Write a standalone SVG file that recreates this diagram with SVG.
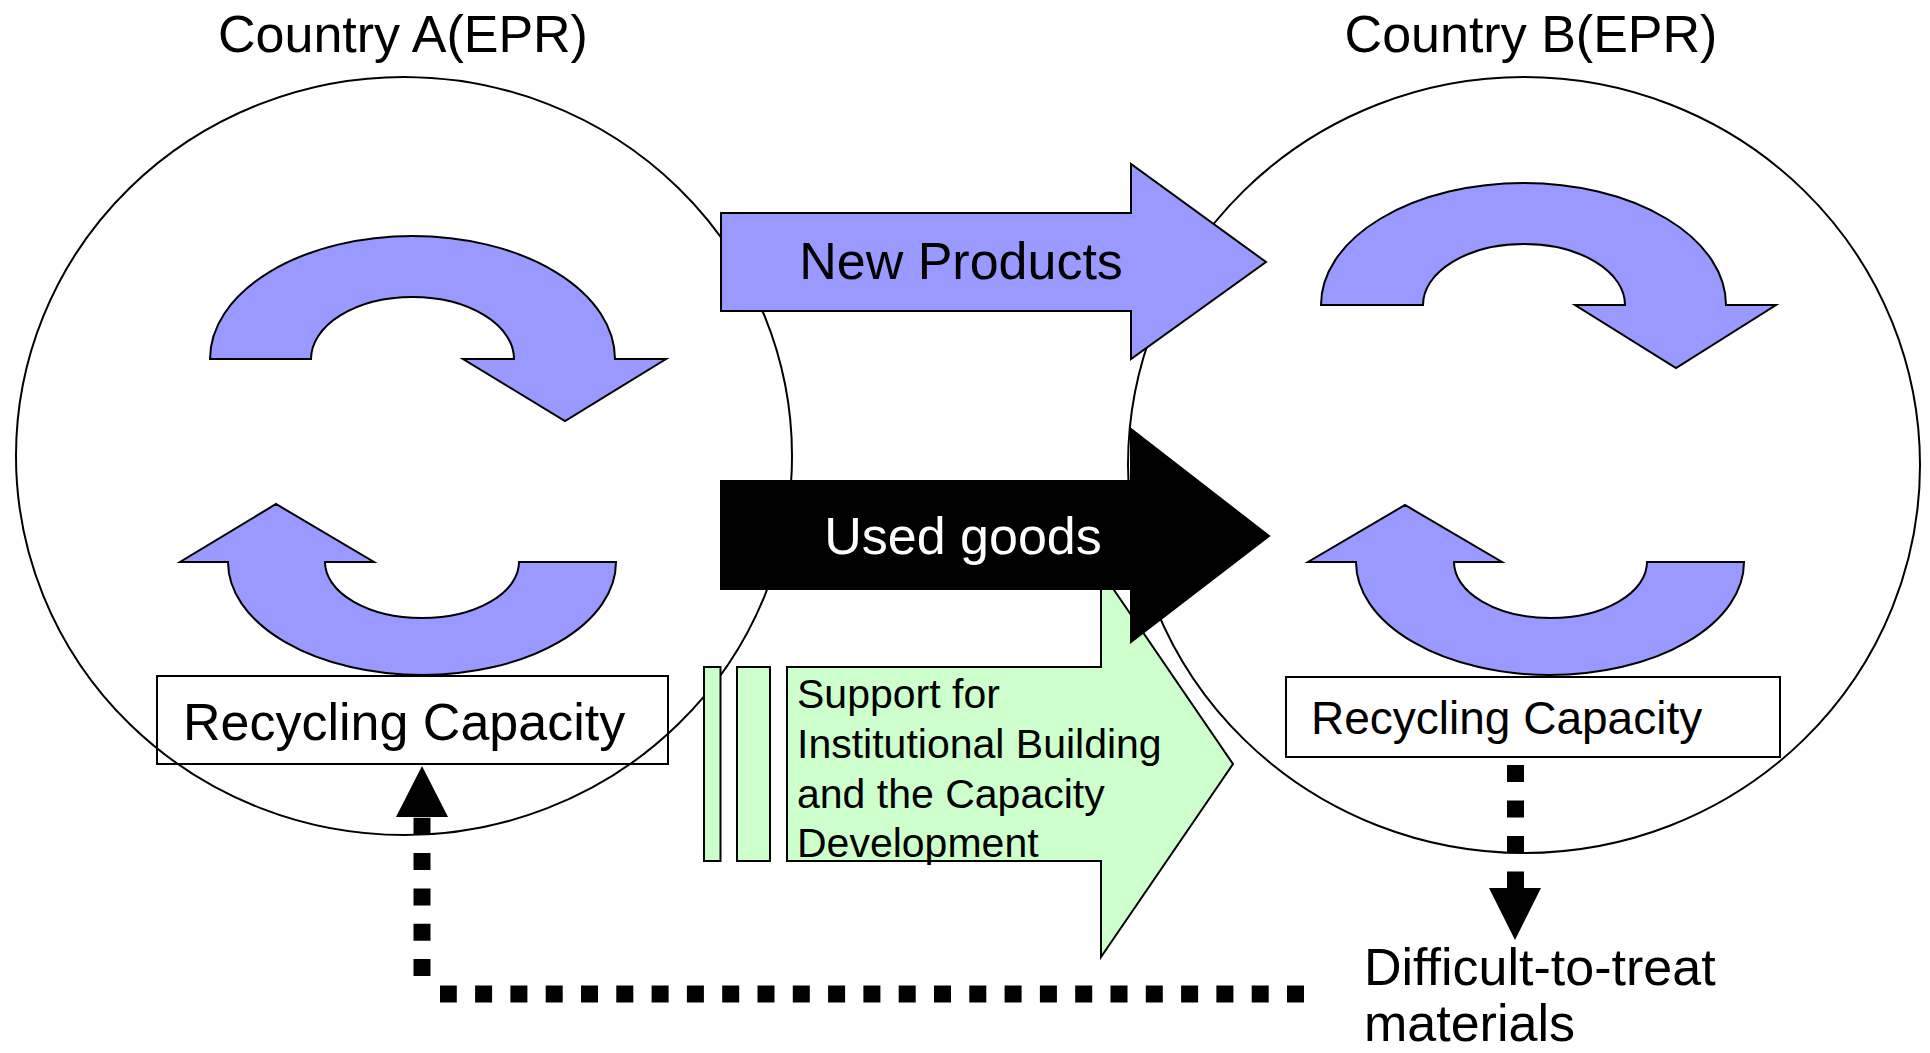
<svg xmlns="http://www.w3.org/2000/svg" width="1930" height="1053" viewBox="0 0 1930 1053">
<style>
  text { font-family: "Liberation Sans", Arial, sans-serif; fill: #000; }
  .ell { fill: none; stroke: #000; stroke-width: 2; }
  .blue { fill: #9999FF; stroke: #000; stroke-width: 2; stroke-linejoin: miter; }
  .green { fill: #CCFFCC; stroke: #000; stroke-width: 2; }
  .box { fill: none; stroke: #000; stroke-width: 2; }
  .dash { fill: none; stroke: #000; stroke-width: 17; stroke-dasharray: 17 18.3; }
  .big { font-size: 52px; }
  .sup { font-size: 41px; }
</style>
<rect width="1930" height="1053" fill="#fff"/>

<g id="countryA">
  <ellipse class="ell" cx="404" cy="456" rx="388" ry="379"/>
  <text class="big" x="403" y="52" text-anchor="middle">Country A(EPR)</text>
</g>
<g id="countryB">
  <ellipse class="ell" cx="1524" cy="465" rx="396" ry="388"/>
  <text class="big" x="1531" y="52" text-anchor="middle">Country B(EPR)</text>
</g>

<g id="cycleA-top">
  <path class="blue" d="M210,359 A202.5,123 0 0 1 615,359 L666,359 L565,421 L463,359 L514,359 A101.5,62 0 0 0 311,359 Z"/>
</g>
<g id="cycleA-bottom">
  <path class="blue" d="M616,562 A194,113 0 0 1 228,562 L180,562 L276,504 L374,562 L325,562 A97,56 0 0 0 519,562 Z"/>
</g>
<g id="cycleB-top">
  <path class="blue" d="M1321,305 A202.5,122 0 0 1 1726,305 L1776,305 L1676,368 L1575,305 L1625,305 A101,61 0 0 0 1423,305 Z"/>
</g>
<g id="cycleB-bottom">
  <path class="blue" d="M1744,562 A194,113 0 0 1 1356,562 L1308,562 L1405,505 L1502,562 L1454,562 A96.5,56 0 0 0 1647,562 Z"/>
</g>

<g id="recyclingA">
  <rect class="box" x="157" y="676" width="511" height="88"/>
  <text class="big" x="183" y="740">Recycling Capacity</text>
</g>
<g id="recyclingB">
  <rect class="box" x="1286" y="677" width="494" height="80"/>
  <text x="1311" y="734" font-size="46">Recycling Capacity</text>
</g>

<g id="support">
  <rect class="green" x="704" y="667" width="16.5" height="194"/>
  <rect class="green" x="737" y="667" width="33" height="194"/>
  <polygon class="green" points="787,667 1101,667 1101,571 1233,764 1101,957 1101,861 787,861"/>
  <text class="sup" x="797" y="708">Support for</text>
  <text class="sup" x="797" y="758">Institutional Building</text>
  <text class="sup" x="797" y="808">and the Capacity</text>
  <text class="sup" x="797" y="857">Development</text>
</g>

<g id="newProducts">
  <polygon class="blue" points="721,213 1131,213 1131,164 1266,262 1131,359 1131,311 721,311"/>
  <text class="big" x="961" y="279" text-anchor="middle">New Products</text>
</g>
<g id="usedGoods">
  <polygon fill="#000" stroke="#000" stroke-width="2" points="721,481 1131,481 1131,429 1269,536 1131,642 1131,589 721,589"/>
  <text class="big" x="963" y="554" text-anchor="middle" style="fill:#fff">Used goods</text>
</g>

<g id="difficult">
  <text class="big" x="1364" y="985">Difficult-to-treat</text>
  <text class="big" x="1364" y="1041">materials</text>
</g>

<g id="connectors">
  <path class="dash" d="M1515.5,765 V888.5" style="stroke-dasharray:17 18.5"/>
  <polygon fill="#000" points="1489,888 1541,888 1515,940"/>
  <path class="dash" d="M1304,994 H440"/>
  <path class="dash" d="M422,976 V817"/>
  <polygon fill="#000" points="396,817 448,817 422,766"/>
</g>
</svg>
